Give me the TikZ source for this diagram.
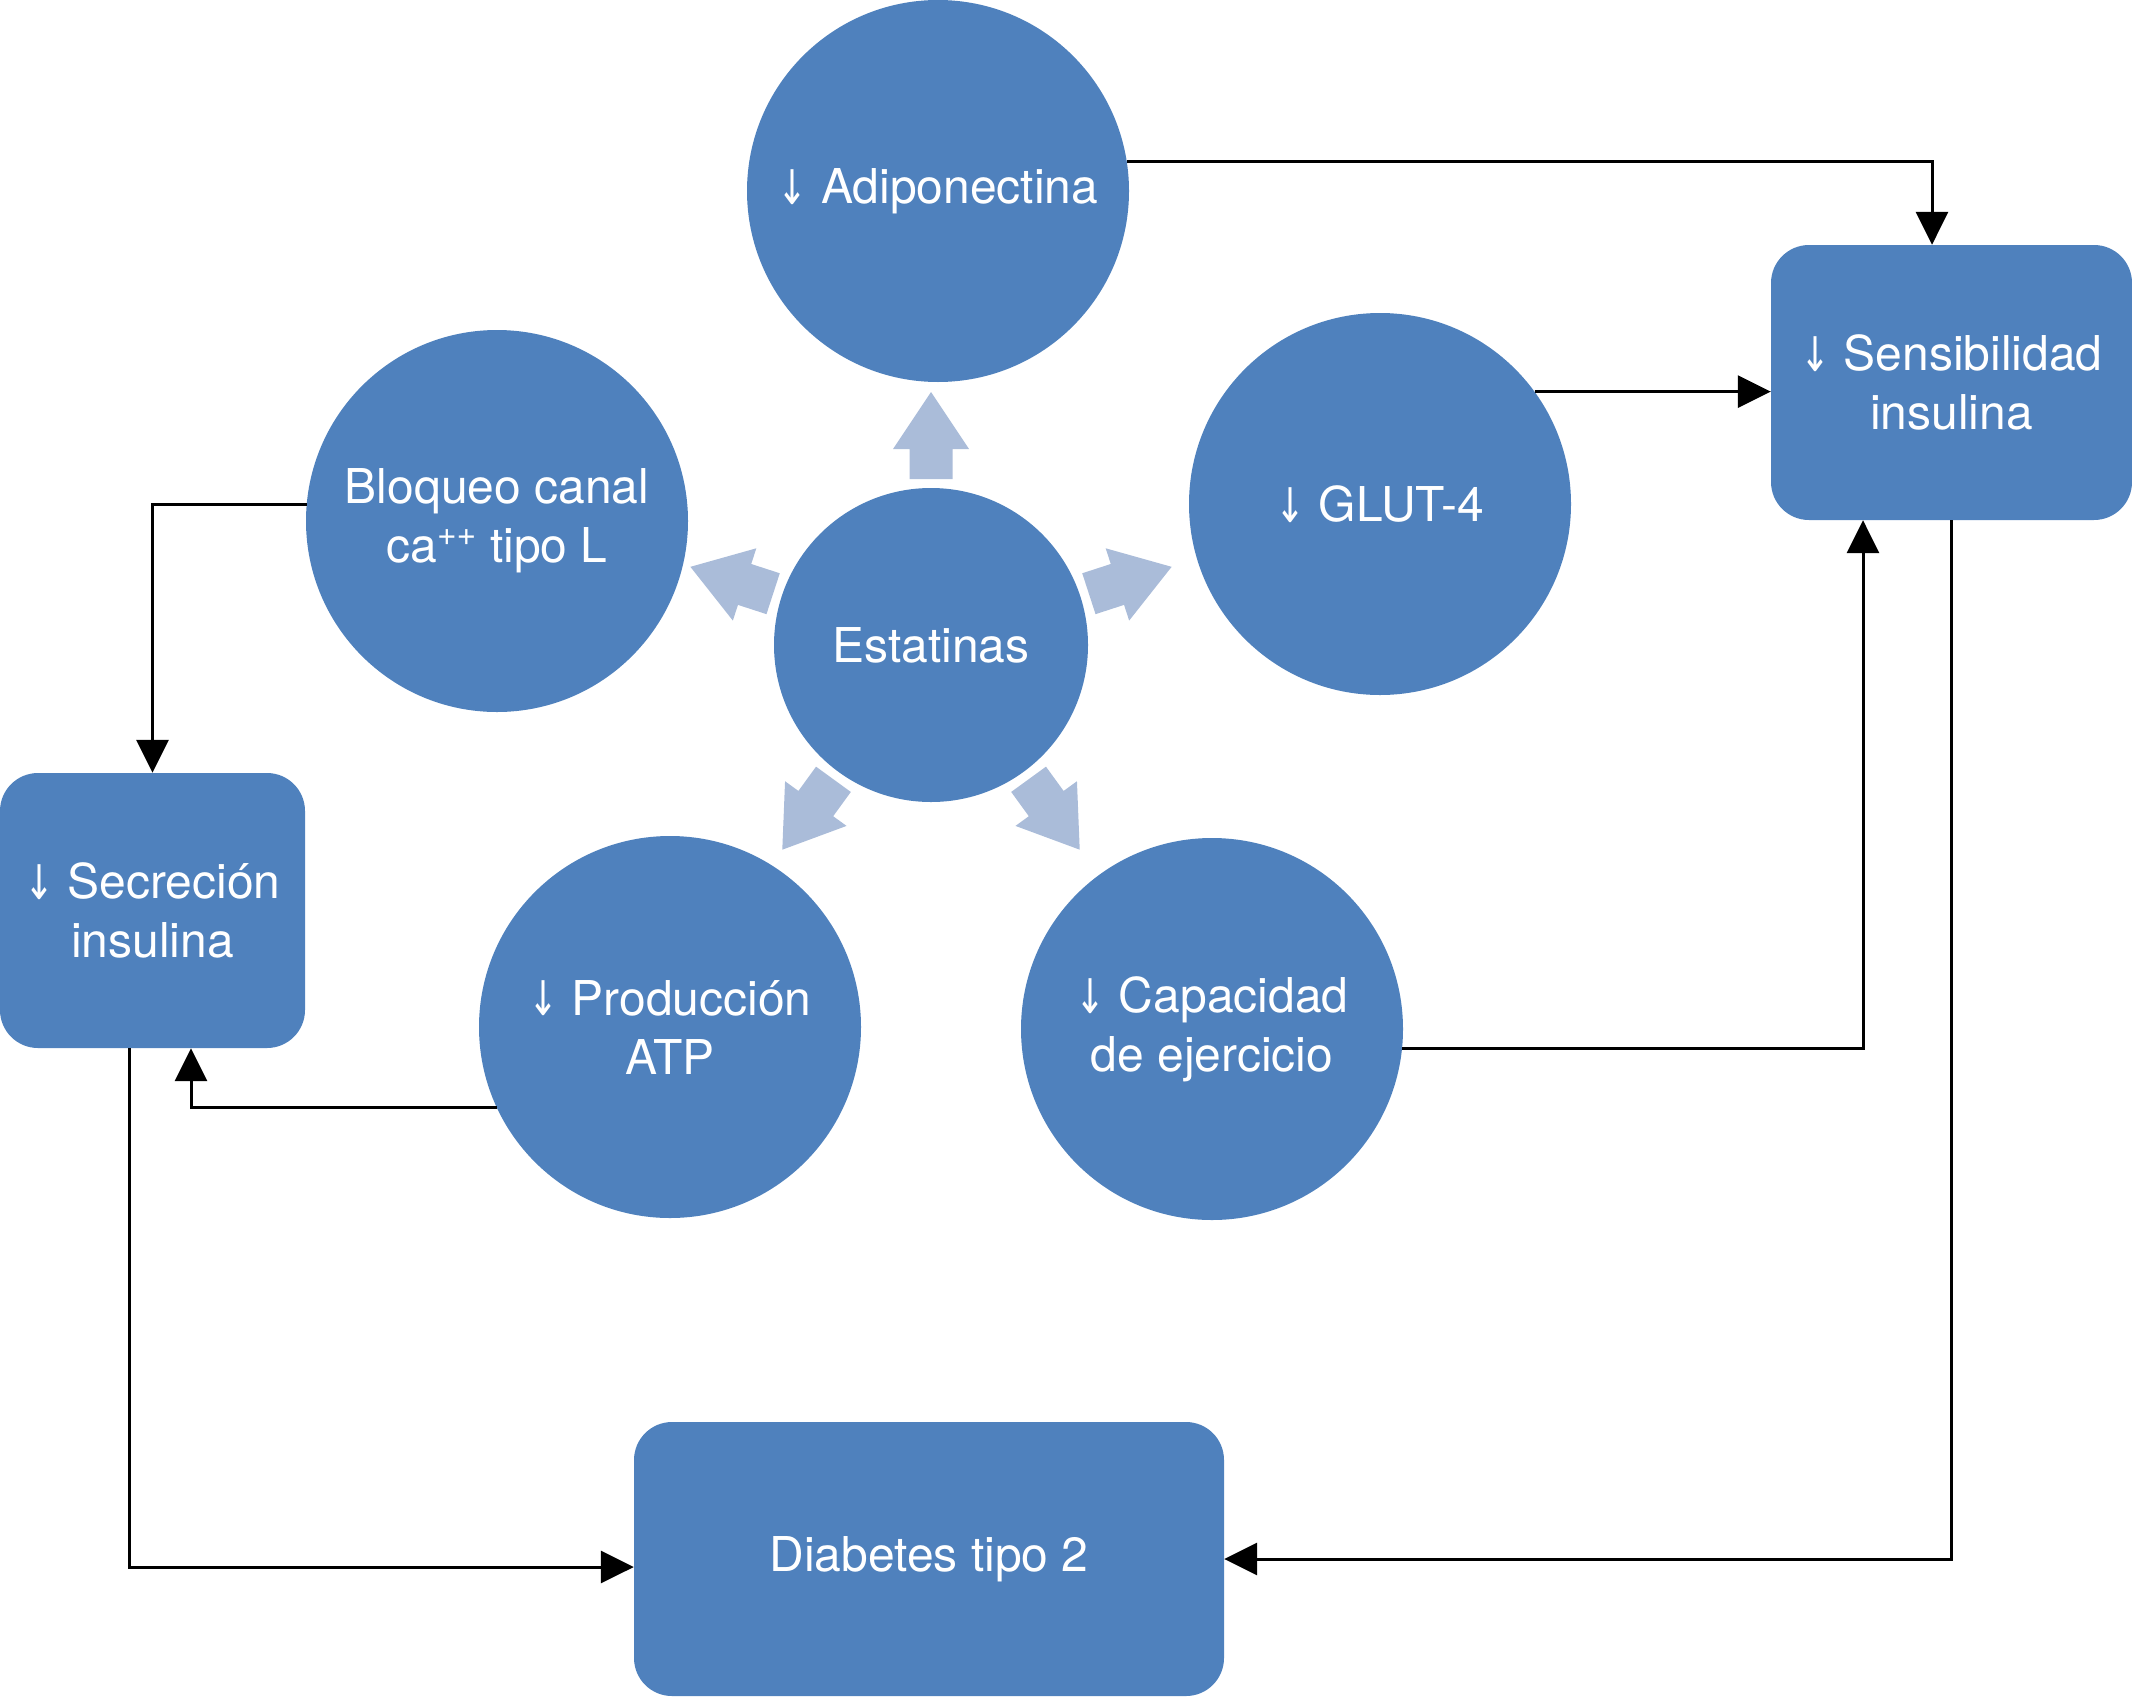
\documentclass[tikz,border=0pt]{standalone}
\usepackage{fix-cm}
\usepackage{fontspec}
\setmainfont{TeX Gyre Heros}
\newfontfamily\arrfont{DejaVu Sans}
\usepackage{graphicx}
\usetikzlibrary{arrows.meta}
\definecolor{bubblue}{RGB}{79,129,189}
\definecolor{blockarrow}{RGB}{170,188,217}
\newcommand\dn{\raisebox{-1pt}{\resizebox*{30pt}{35pt}{\raisebox{\depth}{\arrfont ↓}}}}
\begin{document}
\begin{tikzpicture}[x=1pt,y=-1pt,
  txt/.style={text=white, inner sep=0pt, align=center, font=\fontsize{48pt}{59pt}\selectfont},
  bub/.style={txt, circle, fill=bubblue, minimum size=382pt},
  box/.style={txt, rectangle, rounded corners=38pt, fill=bubblue},
  link/.style={line width=3pt, -{Triangle[length=33pt,width=32pt]}}]
\useasboundingbox (0,0) rectangle (2132,1697);

% central node and bubbles
\node[bub, minimum size=314pt] (est) at (931,645) {Estatinas};
\node[bub] (adi) at (938,191) {\dn{} Adiponectina};
\node[bub] (blo) at (497,521) {Bloqueo canal\\ca\textsuperscript{++} tipo L};
\node[bub] (glut) at (1380,504) {\dn{} GLUT-4};
\node[bub] (atp) at (670,1027) {\dn{} Producción\\ATP};
\node[bub] (cap) at (1212,1029) {\dn{} Capacidad\\de ejercicio};

% boxes
\node[box, minimum width=361pt, minimum height=275pt] (sens) at (1951.5,382.5) {\dn{} Sensibilidad\\insulina};
\node[box, minimum width=305pt, minimum height=275pt] (secr) at (152.5,910.5) {\dn{} Secreción\\insulina};
\node[box, minimum width=590pt, minimum height=274pt] (diab) at (929,1559) {Diabetes tipo 2};

% block arrows from Estatinas
\foreach \a in {0,72,-72,144,-144}{
  \begin{scope}[shift={(est.center)}, rotate=\a]
    \fill[blockarrow] (-21.5pt,166pt) -- (-21.5pt,196pt) -- (-38pt,196pt) -- (0pt,253pt)
      -- (38pt,196pt) -- (21.5pt,196pt) -- (21.5pt,166pt) -- cycle;
  \end{scope}
}

% connectors
\draw[link] (adi.9.3) -| ([xshift=-19.5pt]sens.north);
\draw[link] (glut.36.3) -- (glut.36.3 -| sens.west);
\draw[link] (cap.-6.3) -| ([xshift=-88.5pt]sens.south);
\draw[link] (sens.south) |- (diab.east);
\draw[link] (blo.175.5) -| (secr.north);
\draw[link] (atp.205.4) -| ([xshift=38.5pt]secr.south);
\draw[link] ([xshift=-23.5pt]secr.south) |- ([yshift=-8pt]diab.west);
\end{tikzpicture}
\end{document}
